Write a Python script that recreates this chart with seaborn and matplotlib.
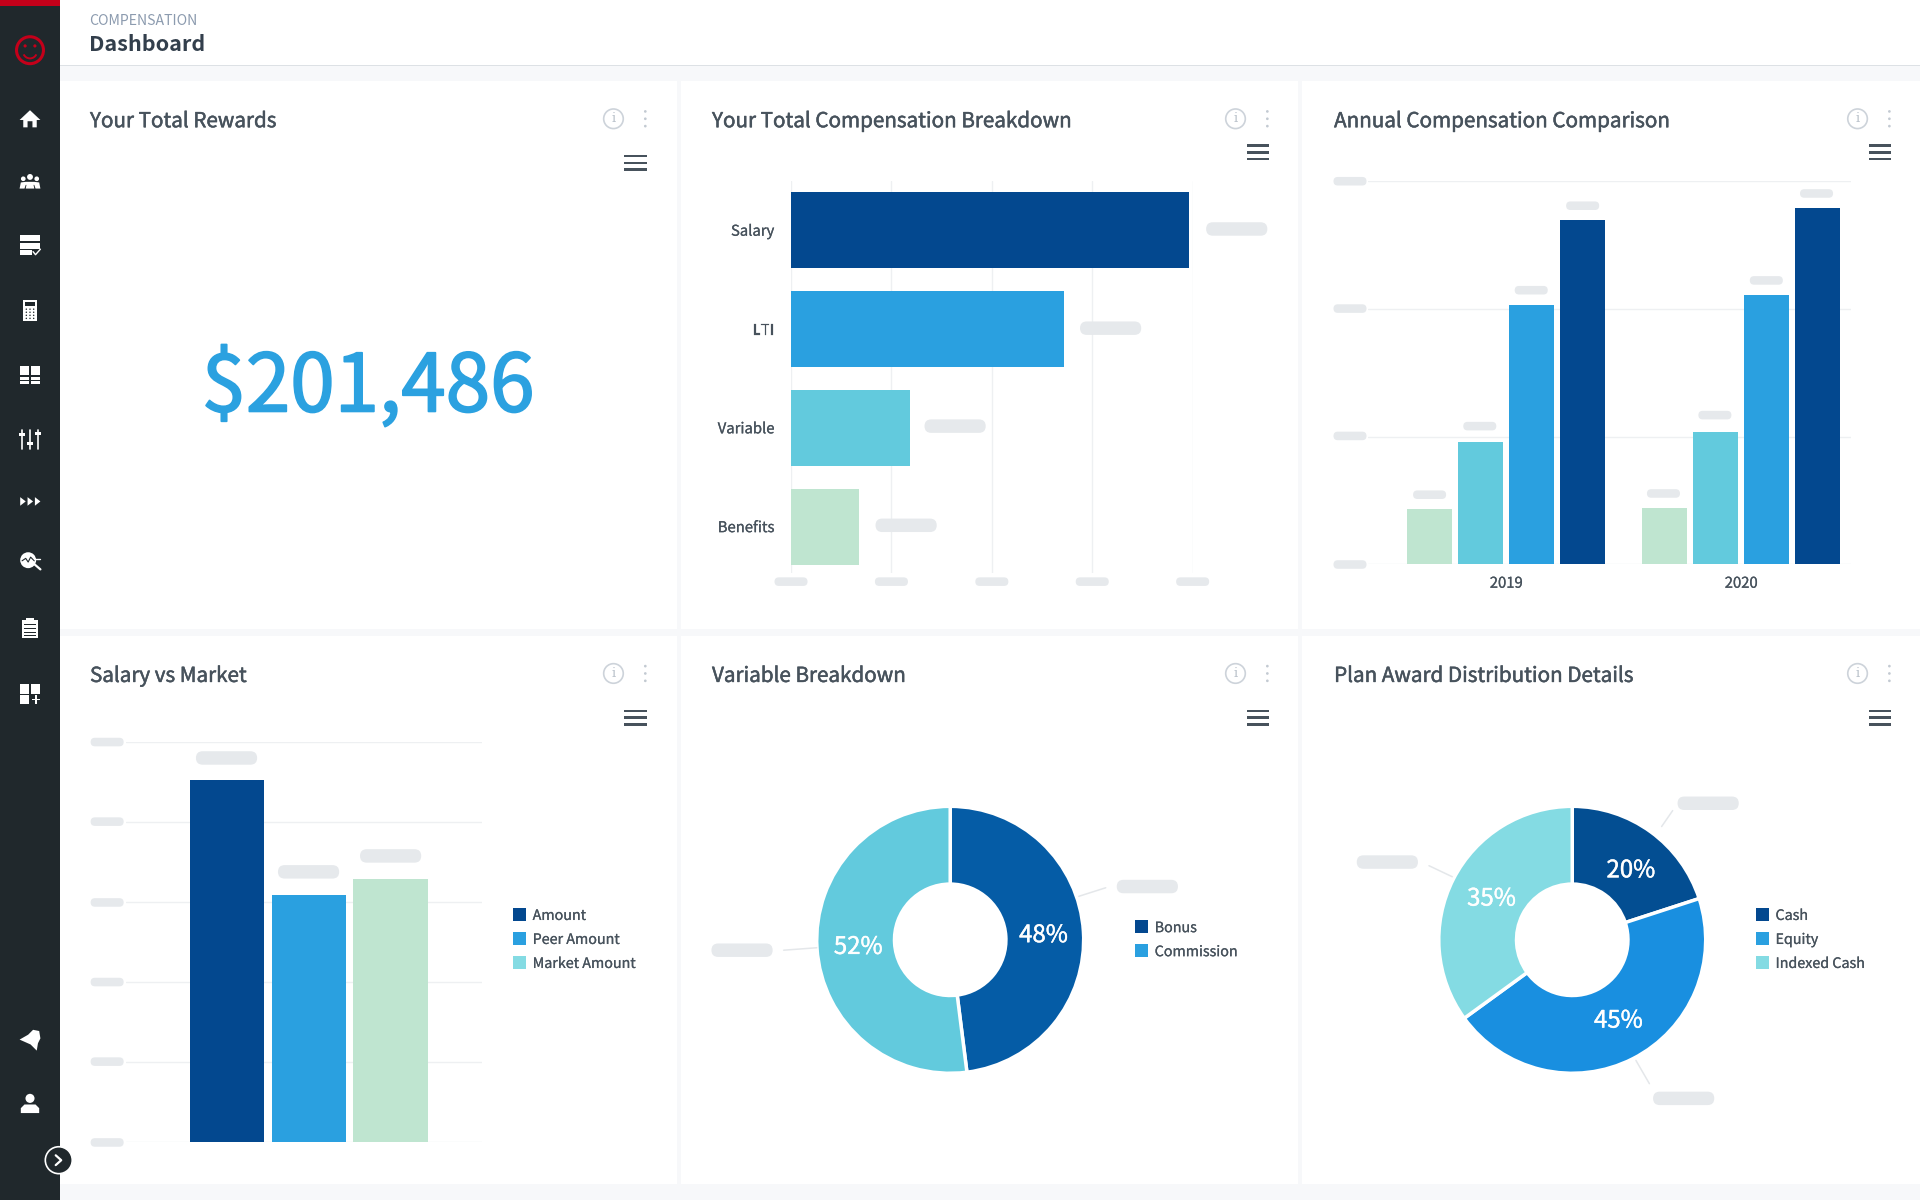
import matplotlib
matplotlib.use('Agg')
import matplotlib.pyplot as plt
import matplotlib.patheffects as pe
from matplotlib.patches import Circle, FancyBboxPatch, Polygon, Rectangle, Wedge
import seaborn as sns

# Data
breakdown_cats = ['Salary', 'LTI', 'Variable', 'Benefits']
breakdown_vals = [198000, 136000, 59000, 34000]
breakdown_colors = ['#03488F', '#2AA0E0', '#62CADD', '#BFE5D0']

years = ['2019', '2019', '2019', '2019', '2020', '2020', '2020', '2020']
annual_parts = ['Benefits', 'Variable', 'LTI', 'Salary'] * 2
annual_vals = [21600, 48000, 101600, 134700, 22000, 52000, 105500, 139500]
annual_colors = ['#BFE5D0', '#62CADD', '#2AA0E0', '#03488F']

market_cats = ['Amount', 'Peer Amount', 'Market Amount']
market_vals = [90500, 61800, 65700]
market_colors = ['#03488F', '#2AA0E0', '#BFE5D0']

variable_cats = ['Bonus', 'Commission']
variable_vals = [48, 52]
variable_colors = ['#055CA6', '#62CADD']

plan_cats = ['Cash', 'Equity', 'Indexed Cash']
plan_vals = [20, 45, 35]
plan_colors = ['#034E92', '#198FE0', '#84DBE3']

panel_titles = ['Your Total Rewards', 'Your Total Compensation Breakdown', 'Annual Compensation Comparison',
                'Salary vs Market', 'Variable Breakdown', 'Plan Award Distribution Details']

INK = '#47525C'
PILL = '#E6E9EC'
GRID = '#EEF0F2'
DARK = '#20282C'
W, H = 1568, 980

sns.set_theme(style='white')
# the latin glyphs of Noto Sans CJK are the closest to the original UI font
plt.rcParams['font.family'] = ['Noto Sans CJK SC', 'DejaVu Sans']
plt.rcParams['patch.force_edgecolor'] = False
plt.rcParams['patch.edgecolor'] = 'none'

fig = plt.figure(figsize=(19.2, 12), dpi=100, facecolor='#F7F8FA')


def thicken(t, lw=.35):
    # no medium weight installed, so fatten the regular one a little
    t.set_path_effects([pe.withStroke(linewidth=lw, foreground=t.get_color())])
    return t


def layer(z):
    a = fig.add_axes([0, 0, 1, 1], zorder=z)
    a.set_xlim(0, W)
    a.set_ylim(H, 0)
    a.axis('off')
    return a


def box_axes(x0, y0, x1, y1):
    # axes from a box given in screen coordinates
    a = fig.add_axes([x0 / W, 1 - y1 / H, (x1 - x0) / W, (y1 - y0) / H], zorder=1)
    a.patch.set_alpha(0)
    return a


def clean(a):
    for s in a.spines.values():
        s.set_visible(False)
    a.set_xlabel('')
    a.set_ylabel('')


back = layer(0)
over = layer(2)


def rect(a, x0, y0, x1, y1, c, z=1):
    a.add_patch(Rectangle((x0, y0), x1 - x0, y1 - y0, fc=c, ec='none', zorder=z))


def pill(x0, x1, yc, h=11):
    p = FancyBboxPatch((x0 + h / 2, yc), x1 - x0 - h, .01, boxstyle='round', fc=PILL, ec='none', lw=0)
    p.set_boxstyle('round', pad=h / 2 - .01, rounding_size=h / 2)
    over.add_patch(p)


def leader(x0, y0, x1, y1):
    over.plot([x0, x1], [y0, y1], color='#E4E7EA', lw=1.1)


# page chrome
rect(back, 49, 0, W, 53, 'white')
rect(back, 49, 53, W, 54, '#DDE1E5')
for px0, px1 in [(49, 553), (556, 1060), (1063, W)]:
    for py0, py1 in [(66, 514), (519, 967)]:
        rect(back, px0, py0, px1, py1, 'white')
rect(over, 0, 0, 49, H, DARK)
rect(over, 0, 0, 49, 5, '#C4001A', 2)
back.text(73, 17, 'COMPENSATION', color='#8C9BAF', fontsize=10.15, va='center')
back.text(73, 36.5, 'Dashboard', color='#333F4C', fontsize=15.5, fontweight='bold', va='center')
thicken(back.text(300.5, 317, '$201,486', color='#2BA1E0', fontsize=57.6, ha='center', va='center'), 1.3)

menu_ys = [133, 124.5, 124.5, 586, 586, 586]
for i, name in enumerate(panel_titles):
    px = [73, 581, 1089][i % 3]
    py = [97, 550][i // 3]
    thicken(back.text(px + .5, py + 2, name, color=INK, fontsize=14.85, va='center'))
    ix = px + 428
    back.add_patch(Circle((ix, py), 8, fc='none', ec='#CDD3DA', lw=1.2))
    back.text(ix, py, 'i', color='#BAC2CB', fontsize=9.5, family='DejaVu Serif', ha='center', va='center')
    for dy in (-6, 0, 6):
        back.add_patch(Circle((ix + 26, py + dy), 1.1, fc='#C3CAD2', ec='none'))
    my = menu_ys[i]
    for dy in (-5.5, 0, 5.5):
        rect(back, px + 437, my + dy - 1, px + 455, my + dy + 1, INK)


# sidebar icons
def icons():
    a, c = over, 'white'
    z = 3
    a.add_patch(Circle((24.5, 41), 11, fc='none', ec='#C4001A', lw=2.2, zorder=z))
    a.add_patch(Circle((20.5, 37.5), 1.3, fc='#C4001A', zorder=z))
    a.add_patch(Circle((28.5, 37.5), 1.3, fc='#C4001A', zorder=z))
    a.add_patch(Wedge((24.5, 42), 6.5, 25, 155, width=1.6, fc='#C4001A', ec='none', zorder=z))
    # home
    a.add_patch(Polygon([(16, 98), (24.5, 90), (33, 98), (30, 98), (30, 104), (26.5, 104), (26.5, 99), (22.5, 99),
                         (22.5, 104), (19, 104), (19, 98)], fc=c, zorder=z))
    # team
    for x, y, r in [(19, 146, 1.9), (24.5, 144.5, 2.4), (30, 146, 1.9)]:
        a.add_patch(Circle((x, y), r, fc=c, zorder=z))
    a.add_patch(Polygon([(16, 154), (17, 149), (21, 148.5), (28, 148.5), (32, 149), (33, 154), (29, 154), (28, 151),
                         (21, 151), (20, 154)], fc=c, zorder=z))
    a.add_patch(Polygon([(21, 154), (22, 149), (27, 149), (28, 154)], fc=c, zorder=z))
    # table
    rect(a, 16, 192, 33, 197, c, z)
    rect(a, 16, 198.5, 33, 203, c, z)
    rect(a, 16, 204.5, 26, 208.5, c, z)
    a.plot([27, 29, 33], [205.5, 208, 203.5], color=c, lw=1, zorder=z)
    # calculator
    rect(a, 19, 245, 30, 262, c, z)
    rect(a, 20.5, 247, 28.5, 250, DARK, z)
    for gx in (21.5, 24.5, 27.5):
        for gy in (252.5, 255, 257.5, 260):
            a.add_patch(Circle((gx, gy), .6, fc=DARK, zorder=z))
    # cards
    rect(a, 16, 299, 24, 306.5, c, z)
    rect(a, 25, 299, 33, 306.5, c, z)
    rect(a, 16, 307.5, 24, 310, c, z)
    rect(a, 25, 307.5, 33, 310, c, z)
    rect(a, 16, 311, 24, 313.5, c, z)
    rect(a, 25, 311, 33, 313.5, c, z)
    # sliders
    for x, y in [(18, 354.5), (24.5, 362), (31, 354)]:
        a.plot([x, x], [351, 367], color=c, lw=1.2, zorder=z)
        rect(a, x - 2.8, y - 1.2, x + 2.8, y + 1.2, c, z)
    # arrows
    for x in (16.5, 22.5, 28.5):
        a.add_patch(Polygon([(x, 406), (x + 4.5, 409.5), (x, 413)], fc=c, zorder=z))
    # search chart
    a.add_patch(Circle((23, 457.5), 6.5, fc=c, zorder=z))
    a.plot([18, 21, 23, 25, 28], [458, 456, 459, 455, 458], color=DARK, lw=.8, zorder=z)
    a.plot([26, 33], [459, 465], color=c, lw=1.6, zorder=z)
    a.plot([28, 33], [456.5, 456.5], color=c, lw=1, zorder=z)
    # clipboard
    rect(a, 18, 506, 31, 521, c, z)
    rect(a, 21, 504.5, 28, 507, c, z)
    for y in (510, 513, 516, 518.5):
        rect(a, 20, y, 29, y + .8, DARK, z)
    # add widget
    rect(a, 16, 559, 24, 566.5, c, z)
    rect(a, 25, 559, 33, 566.5, c, z)
    rect(a, 16, 567.5, 24, 575, c, z)
    rect(a, 26, 570.5, 33, 572, c, z)
    rect(a, 28.8, 567.5, 30.2, 575, c, z)
    # bell
    a.add_patch(Polygon([(16, 849), (23, 845), (27, 841), (32, 842), (33, 848), (31, 852), (30, 858), (25, 853)],
                        fc=c, zorder=z))
    # person
    a.add_patch(Circle((24.5, 897), 3.7, fc=c, zorder=z))
    a.add_patch(Polygon([(17, 909), (17, 905), (20, 902), (29, 902), (32, 905), (32, 909)], fc=c, zorder=z))
    # collapse button
    a.add_patch(Circle((48, 947.5), 11, fc=DARK, ec='white', lw=1.2, zorder=z))
    a.plot([45.5, 50, 45.5], [943.5, 947.5, 951.5], color='white', lw=1.6, zorder=z + 1)


icons()

# Your Total Compensation Breakdown
ax = box_axes(646, 148, 974, 468)
sns.barplot(x=breakdown_vals, y=breakdown_cats, hue=breakdown_cats, palette=breakdown_colors, orient='h',
            width=.77, saturation=1, legend=False, linewidth=0, ax=ax)
ax.set_xlim(0, 200000)
ax.set_ylim(3.47, -.496)
ax.set_xticks([0, 50000, 100000, 150000, 200000])
ax.set_xticklabels([])
ax.grid(axis='x', color=GRID, lw=1)
ax.grid(axis='y', visible=False)
ax.set_axisbelow(True)
ax.tick_params(axis='both', length=0)
ax.tick_params(axis='y', pad=12, labelsize=10.7, labelcolor=INK)
for t in ax.get_yticklabels():
    thicken(t, .15)
clean(ax)

# Annual Compensation Comparison
ax = box_axes(1117, 148, 1512, 461)
sns.barplot(x=years, y=annual_vals, hue=annual_parts, palette=annual_colors, width=.87, gap=.12,
            saturation=1, legend=False, linewidth=0, ax=ax)
ax.set_xlim(-.589, 1.469)
ax.set_ylim(0, 150000)
ax.set_yticks([0, 50000, 100000, 150000])
ax.set_yticklabels([])
ax.grid(axis='y', color=GRID, lw=1)
ax.grid(axis='x', visible=False)
ax.set_axisbelow(True)
ax.tick_params(axis='both', length=0)
ax.tick_params(axis='x', pad=8.8, labelsize=10.7, labelcolor=INK)
for t in ax.get_xticklabels():
    thicken(t, .15)
clean(ax)

# Salary vs Market
ax = box_axes(103, 606, 394, 933)
sns.barplot(x=market_cats, y=market_vals, hue=market_cats, palette=market_colors, width=.91,
            saturation=1, legend=False, linewidth=0, ax=ax)
ax.set_xlim(-1.236, 3.124)
ax.set_ylim(0, 100000)
ax.set_yticks([0, 20000, 40000, 60000, 80000, 100000])
ax.set_yticklabels([])
ax.set_xticks([])
ax.grid(axis='y', color=GRID, lw=1)
ax.set_axisbelow(True)
ax.tick_params(axis='both', length=0)
clean(ax)


# the two donuts
def donut(cx, cy, vals, colors, nudges):
    R = 109
    a = box_axes(cx - R, cy - R, cx + R, cy + R)
    _, _, labels = a.pie(vals, colors=colors, startangle=90, counterclock=False, radius=1, pctdistance=.7,
                         autopct=lambda p: f'{round(p)}%',
                         wedgeprops=dict(width=1 - 45.5 / R, edgecolor='white', linewidth=2.5),
                         textprops=dict(color='white', fontsize=17.3))
    a.set_xlim(-1, 1)
    a.set_ylim(-1, 1)
    for t, (dx, dy) in zip(labels, nudges):
        x, y = t.get_position()
        t.set_position((x + dx / R, y - dy / R))
        thicken(t, .3)


donut(776, 767.5, variable_vals, variable_colors, [(0, 1), (1, 1)])
donut(1284, 767.5, plan_vals, plan_colors, [(3, 5), (3, -2), (2, 1)])


# legends
def legend(x, y0, names, colors):
    for i, (n, c) in enumerate(zip(names, colors)):
        y = y0 + i * 19.6
        rect(back, x, y - 5.3, x + 10.5, y + 5.3, c)
        thicken(back.text(x + 16, y + 1, n, color=INK, fontsize=10.3, va='center'), .15)


legend(419, 747, market_cats, ['#03488F', '#2AA0E0', '#84DBE3'])
legend(927, 757, variable_cats, ['#03488F', '#2AA0E0'])
legend(1434, 747, plan_cats, ['#03488F', '#2AA0E0', '#84DBE3'])

# blanked out value labels
for x0, x1, y in [(985, 1035, 187), (882, 932, 268), (755, 805, 348), (715, 765, 429),
                  (160, 210, 619), (227, 277, 712), (294, 344, 699),
                  (912, 962, 724), (581, 631, 776), (1370, 1420, 656), (1108, 1158, 704), (1350, 1400, 897)]:
    pill(x0, x1, y)
for xc in (646, 728, 810, 892, 974):
    pill(xc - 13.5, xc + 13.5, 475, 7)
for y in (148, 252, 356, 461):
    pill(1089, 1116, y, 7)
for y in (606, 671, 737, 802, 867, 933):
    pill(74, 101, y, 7)
for x0, y in [(1154, 404), (1195, 348), (1237, 237), (1279, 168), (1345, 403), (1387, 339), (1429, 229), (1470, 158)]:
    pill(x0, x0 + 27, y, 7)
leader(881, 732, 903, 725)
leader(640, 776, 667, 774)
leader(1357, 675, 1366, 662)
leader(1167, 707, 1186, 716)
leader(1336, 866, 1347, 885)

fig.savefig('out.png', dpi=100, facecolor=fig.get_facecolor())
